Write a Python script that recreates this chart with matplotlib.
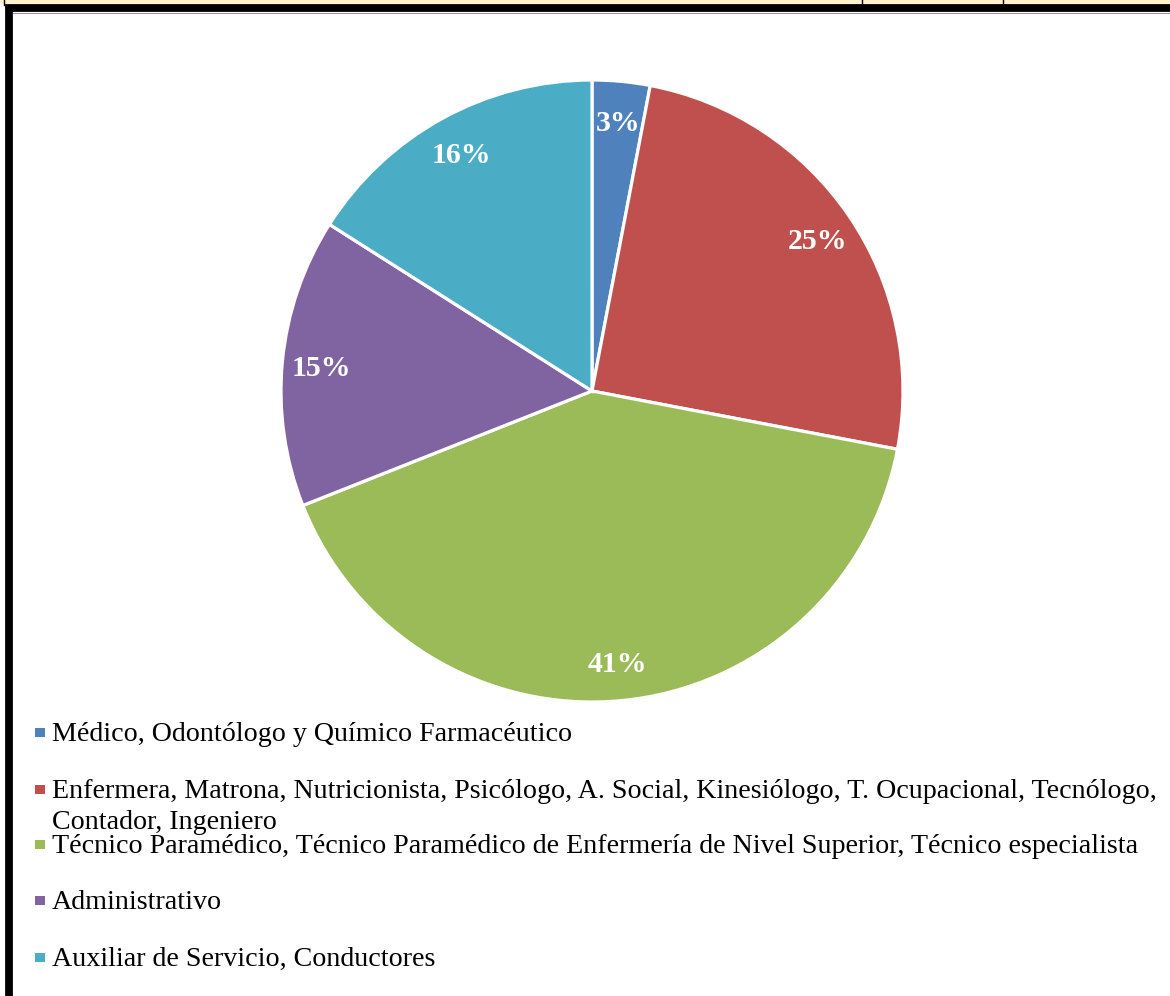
import matplotlib
matplotlib.use("Agg")
import matplotlib.pyplot as plt
from matplotlib.lines import Line2D
from matplotlib.patches import Rectangle

# Staff distribution by professional group (percent)
categories = [
    "Médico, Odontólogo y Químico Farmacéutico",
    "Enfermera, Matrona, Nutricionista, Psicólogo, A. Social, Kinesiólogo, T. Ocupacional, Tecnólogo,\nContador, Ingeniero",
    "Técnico Paramédico, Técnico Paramédico de Enfermería de Nivel Superior, Técnico especialista",
    "Administrativo",
    "Auxiliar de Servicio, Conductores",
]
values = [3, 25, 41, 15, 16]
colors = ["#4F81BD", "#C0504D", "#9BBB59", "#8064A2", "#4BACC6"]

W, H = 1170, 996
fig = plt.figure(figsize=(W / 100, H / 100), dpi=100)
fig.patch.set_facecolor("white")

serif = ["Liberation Serif", "DejaVu Serif"]


def fx(px):
    return px / W


def fy(py):
    return 1 - py / H


# Header strip and frame
fig.add_artist(Rectangle((0, fy(4)), 1, 4 / H, transform=fig.transFigure,
                         facecolor="#FFF2CC", edgecolor="none"))
for xp in (3.5, 862, 1003):
    fig.add_artist(Line2D([fx(xp), fx(xp)], [fy(0), fy(5)], transform=fig.transFigure,
                          color="black", lw=1.0))
fig.add_artist(Line2D([fx(8.5), fx(8.5), fx(1175)], [fy(1000), fy(8), fy(8)],
                      transform=fig.transFigure, color="black", lw=5.6,
                      solid_joinstyle="miter"))
fig.add_artist(Line2D([fx(12.5), fx(1175)], [fy(13), fy(13)],
                      transform=fig.transFigure, color="#9a9a9a", lw=0.8))

# Pie
cx, cy, r = 592, 391, 311
ax = fig.add_axes([fx(cx - r), fy(cy + r), 2 * r / W, 2 * r / H])
wedges, texts, autotexts = ax.pie(
    values,
    colors=colors,
    startangle=90,
    counterclock=False,
    autopct=lambda p: f"{p:.0f}%",
    pctdistance=0.875,
    wedgeprops=dict(edgecolor="white", linewidth=2.3),
    textprops=dict(color="white", fontsize=21.5, fontweight="bold", family=serif),
)
for t in autotexts:
    t.set_va("center_baseline")
ax.set_xlim(-1, 1)
ax.set_ylim(-1, 1)
ax.set_aspect("equal")
ax.axis("off")

# Legend
baselines = [741, 798, 853, 909, 966]
line_step = 31
for label, color, yb in zip(categories, colors, baselines):
    fig.add_artist(Rectangle((fx(35), fy(yb - 4)), 10 / W, 9 / H,
                             transform=fig.transFigure, facecolor=color,
                             edgecolor="none"))
    for i, line in enumerate(label.split("\n")):
        fig.text(fx(52), fy(yb + i * line_step), line, ha="left", va="baseline",
                 fontsize=20.2, family=serif, color="black")

fig.savefig("out.png", dpi=100)
